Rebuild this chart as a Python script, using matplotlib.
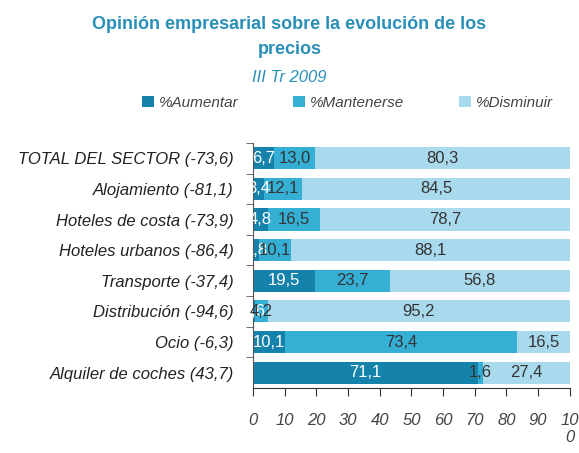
import matplotlib.pyplot as plt
from matplotlib.patches import Patch

categories = [
    "TOTAL DEL SECTOR (-73,6)",
    "Alojamiento (-81,1)",
    "Hoteles de costa (-73,9)",
    "Hoteles urbanos (-86,4)",
    "Transporte (-37,4)",
    "Distribución (-94,6)",
    "Ocio (-6,3)",
    "Alquiler de coches (43,7)",
]
aumentar = [6.7, 3.4, 4.8, 1.8, 19.5, 0.6, 10.1, 71.1]
mantenerse = [13.0, 12.1, 16.5, 10.1, 23.7, 4.2, 73.4, 1.6]
disminuir = [80.3, 84.5, 78.7, 88.1, 56.8, 95.2, 16.5, 27.4]
series_names = ["%Aumentar", "%Mantenerse", "%Disminuir"]
xticks = [0, 10, 20, 30, 40, 50, 60, 70, 80, 90, 100]
xtick_labels = ["0", "10", "20", "30", "40", "50", "60", "70", "80", "90", "10\n0"]

colors = ["#1582ab", "#36afd5", "#a9d9ec"]
text_colors = ["white", "#333333", "#333333"]
title_color = "#2a8fb8"

plt.rcParams["font.family"] = ["Liberation Sans Narrow", "Liberation Sans", "DejaVu Sans"]

fig = plt.figure(figsize=(5.79, 4.53), dpi=100)
ax = fig.add_axes([0.437, 0.1435, 0.547, 0.541])

y = list(range(len(categories)))
left = [0.0] * len(categories)
for vals, col, tcol in zip([aumentar, mantenerse, disminuir], colors, text_colors):
    ax.barh(y, vals, left=left, height=0.72, color=col, edgecolor="none")
    for i, v in enumerate(vals):
        label = f"{v:.1f}".replace(".", ",")
        ax.text(left[i] + v / 2, i, label, ha="center", va="center",
                fontsize=12, color=tcol)
    left = [l + v for l, v in zip(left, vals)]

ax.set_ylim(len(categories) - 0.5, -0.5)
ax.set_xlim(0, 100)
ax.set_yticks(y)
ax.set_yticklabels(categories, fontsize=12, style="italic", color="#222222")
ax.set_yticks([i + 0.5 for i in range(-1, len(categories) - 1)], minor=True)
ax.tick_params(axis="y", which="major", length=0, pad=14)
ax.tick_params(axis="y", which="minor", length=5, color="#555555")
ax.set_xticks(xticks)
ax.set_xticklabels(xtick_labels, fontsize=12, style="italic", color="#444444")
ax.tick_params(axis="x", length=6, color="#333333", pad=12)
for s in ["top", "right"]:
    ax.spines[s].set_visible(False)
ax.spines["left"].set_color("#555555")
ax.spines["bottom"].set_color("#333333")

fig.text(0.5, 0.945, "Opinión empresarial sobre la evolución de los",
         ha="center", va="center", fontsize=13, fontweight="bold", color=title_color)
fig.text(0.5, 0.89, "precios", ha="center", va="center", fontsize=13,
         fontweight="bold", color=title_color)
fig.text(0.5, 0.83, "III Tr 2009", ha="center", va="center", fontsize=12,
         style="italic", color=title_color)

handles = [Patch(facecolor=c, edgecolor="none") for c in colors]
leg = fig.legend(handles, series_names, loc="center", bbox_to_anchor=(0.6, 0.773),
                 ncol=3, frameon=False, fontsize=11, handlelength=0.8,
                 handleheight=0.8, handletextpad=0.3, columnspacing=3.6)
for t in leg.get_texts():
    t.set_style("italic")
    t.set_color("#444444")

fig.savefig("out.png", dpi=100)
